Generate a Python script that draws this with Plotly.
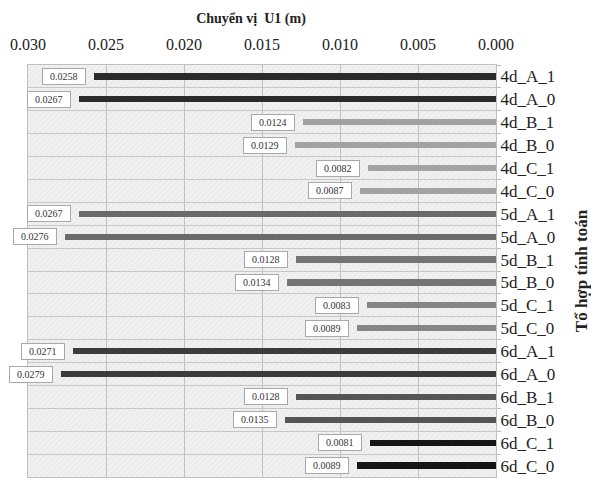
import plotly.graph_objects as go

categories = ["4d_A_1", "4d_A_0", "4d_B_1", "4d_B_0", "4d_C_1", "4d_C_0",
              "5d_A_1", "5d_A_0", "5d_B_1", "5d_B_0", "5d_C_1", "5d_C_0",
              "6d_A_1", "6d_A_0", "6d_B_1", "6d_B_0", "6d_C_1", "6d_C_0"]
values = [0.0258, 0.0267, 0.0124, 0.0129, 0.0082, 0.0087,
          0.0267, 0.0276, 0.0128, 0.0134, 0.0083, 0.0089,
          0.0271, 0.0279, 0.0128, 0.0135, 0.0081, 0.0089]
labels = ["0.0258", "0.0267", "0.0124", "0.0129", "0.0082", "0.0087",
          "0.0267", "0.0276", "0.0128", "0.0134", "0.0083", "0.0089",
          "0.0271", "0.0279", "0.0128", "0.0135", "0.0081", "0.0089"]
bar_colors = ["#2b2b2b", "#2b2b2b", "#a2a2a2", "#a2a2a2", "#a2a2a2", "#a2a2a2",
              "#6a6a6a", "#6a6a6a", "#747474", "#747474", "#858585", "#858585",
              "#3c3c3c", "#3c3c3c", "#555555", "#555555", "#151515", "#151515"]
tick_vals = [0.030, 0.025, 0.020, 0.015, 0.010, 0.005, 0.000]
x_max = 0.030

serif = "Liberation Serif, Times New Roman, serif"

# the page body has an 8px default margin; figure is sized to fit the 599x481 window
W, H = 591, 473

fig = go.Figure()

# hatch texture over the light background (transparent fill so grid shows through)
fig.add_trace(go.Bar(
    y=categories, x=[x_max] * len(categories), orientation="h", width=1.0,
    marker=dict(color="rgba(0,0,0,0)", line=dict(width=0),
                pattern=dict(shape="/", fgcolor="#dadada", bgcolor="rgba(0,0,0,0)",
                             size=4, solidity=0.25)),
    hoverinfo="skip", showlegend=False))

fig.add_trace(go.Bar(
    y=categories, x=values, orientation="h", width=0.27,
    marker=dict(color=bar_colors, line=dict(width=0)),
    showlegend=False))

for c, v, t in zip(categories, values, labels):
    fig.add_annotation(x=v, y=c,
                       text="&nbsp;&nbsp;" + t + "&nbsp;&nbsp;", xanchor="right", xshift=-8,
                       showarrow=False,
                       font=dict(family=serif, size=10, color="#333333"),
                       bgcolor="white", bordercolor="#a8a8a8", borderwidth=1, borderpad=2)

fig.update_layout(
    width=W, height=H,
    margin=dict(l=20, r=103, t=57, b=4),
    paper_bgcolor="white", plot_bgcolor="#f1f1f1",
    barmode="overlay", bargap=0,
    font=dict(family=serif, color="#222222"),
    title=dict(text="<b>Chuyển vị  U1 (m)</b>", font=dict(size=14, family=serif, color="#222222"),
               x=(251 - 8) / W, xanchor="center", y=1 - (18 - 8) / H, yanchor="middle"),
    xaxis=dict(side="top", range=[x_max, 0], tickvals=tick_vals, tickformat=".3f",
               tickfont=dict(size=16, family=serif, color="#222222"), ticklabelstandoff=8,
               showgrid=True, gridcolor="#bcbcbc", gridwidth=1, zeroline=False,
               showline=True, linecolor="#c0c0c0", mirror=True, ticks="", automargin=False),
    yaxis=dict(side="right", categoryorder="array", categoryarray=categories,
               autorange="reversed",
               tickson="boundaries", ticks="outside", ticklen=4, tickcolor="#bbbbbb",
               showgrid=True, gridcolor="#c4c4c4", gridwidth=1,
               showline=True, linecolor="#c0c0c0", mirror=True, automargin=False,
               tickfont=dict(size=17, family=serif, color="#222222"),
               title=dict(text="<b>Tổ hợp tính toán</b>", font=dict(size=17, family=serif),
                          standoff=20)),
)

fig.write_html("out.html")
